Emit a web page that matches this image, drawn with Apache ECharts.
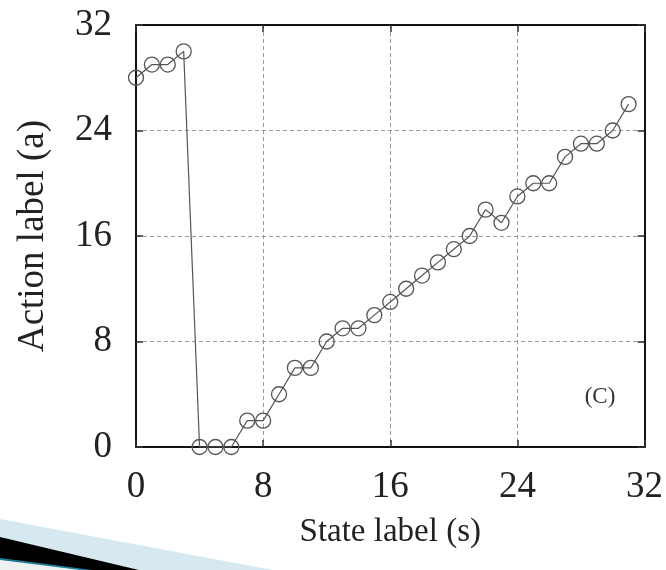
<!DOCTYPE html>
<html>
<head>
<meta charset="utf-8">
<script src="https://cdn.jsdelivr.net/npm/echarts@6/dist/echarts.min.js"></script>
<style>
  html, body { margin: 0; padding: 0; background: #fff; }
  #chart { width: 666px; height: 570px; }
</style>
</head>
<body>
<div id="chart"></div>
<script>
// state label s -> action label a
const states = [0, 1, 2, 3, 4, 5, 6, 7, 8, 9, 10, 11, 12, 13, 14, 15,
  16, 17, 18, 19, 20, 21, 22, 23, 24, 25, 26, 27, 28, 29, 30, 31];
const actions = [28, 29, 29, 30, 0, 0, 0, 2, 2, 4, 6, 6, 8, 9, 9, 10,
  11, 12, 13, 14, 15, 16, 18, 17, 19, 20, 20, 22, 23, 23, 24, 26];
const ticks = [0, 8, 16, 24, 32];
const panelTag = '(C)';

const font = '"Liberation Serif", "DejaVu Serif", serif';
const chart = echarts.init(document.getElementById('chart'));

const axisBase = {
  type: 'value',
  min: ticks[0],
  max: ticks[ticks.length - 1],
  interval: 8,
  axisLine: { show: true, onZero: false, lineStyle: { color: '#111', width: 2 } },
  axisTick: { show: true, inside: true, length: 7, lineStyle: { color: '#333', width: 1.5 } },
  splitLine: { show: false }
};
const gridLine = { show: true, lineStyle: { color: '#999', type: [4, 3], width: 1 } };

const option = {
  animation: false,
  backgroundColor: '#fff',
  grid: { left: 136, top: 25, right: 21, bottom: 123, show: false },
  xAxis: [
    Object.assign({}, axisBase, {
      position: 'bottom',
      name: 'State label (s)',
      nameLocation: 'middle',
      nameGap: 69,
      nameTextStyle: { fontFamily: font, fontSize: 33, color: '#222' },
      axisLabel: { fontFamily: font, fontSize: 37, color: '#222', margin: 22 },
      splitLine: gridLine
    }),
    Object.assign({}, axisBase, { position: 'top', axisLabel: { show: false } })
  ],
  yAxis: [
    Object.assign({}, axisBase, {
      position: 'left',
      name: 'Action label (a)',
      nameLocation: 'middle',
      nameGap: 84,
      nameTextStyle: { fontFamily: font, fontSize: 37, color: '#222' },
      axisLabel: { fontFamily: font, fontSize: 37, color: '#222', margin: 24 },
      splitLine: gridLine
    }),
    Object.assign({}, axisBase, { position: 'right', axisLabel: { show: false } })
  ],
  series: [
    {
      type: 'line',
      data: states.map((s, i) => [s, actions[i]]),
      symbol: 'circle',
      symbolSize: 15,
      clip: false,
      lineStyle: { color: '#555', width: 1.2 },
      itemStyle: { color: 'rgba(0,0,0,0)', borderColor: '#555', borderWidth: 1.3 },
      markPoint: {
        symbol: 'circle',
        symbolSize: 1,
        itemStyle: { color: 'rgba(0,0,0,0)' },
        data: [{
          coord: [29.2, 3.8],
          label: { show: true, formatter: panelTag, fontFamily: font, fontSize: 23, color: '#333', position: 'inside' }
        }]
      }
    }
  ],
  graphic: [
    {
      type: 'polygon',
      shape: { points: [[0, 519], [278, 571], [0, 571]] },
      style: { fill: '#d7e9f0' },
      silent: true
    },
    {
      type: 'polygon',
      shape: { points: [[0, 537], [143, 571], [0, 571]] },
      style: { fill: '#000' },
      silent: true
    },
    {
      type: 'polygon',
      shape: { points: [[0, 558], [100, 571], [0, 571]] },
      style: { fill: '#1f7f99' },
      silent: true
    },
    {
      type: 'polygon',
      shape: { points: [[0, 560], [88, 571], [0, 571]] },
      style: { fill: '#eef1f2' },
      silent: true
    }
  ]
};

chart.setOption(option);
</script>
</body>
</html>
